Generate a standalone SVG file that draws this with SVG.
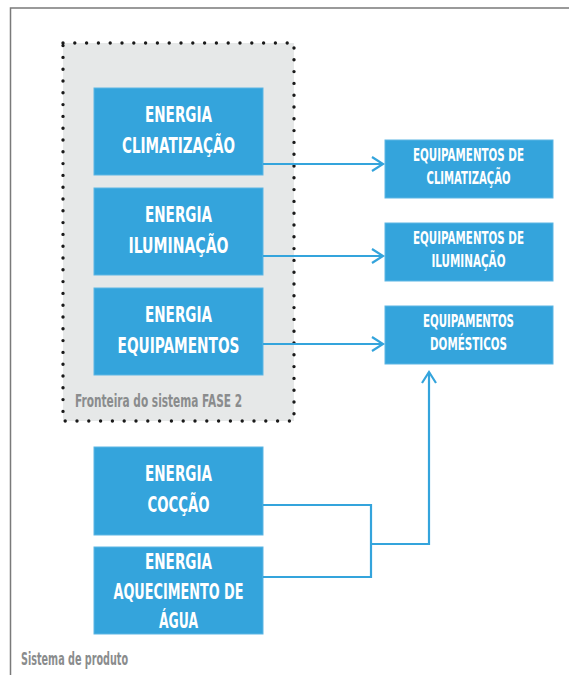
<svg xmlns="http://www.w3.org/2000/svg" width="569" height="675" viewBox="0 0 569 675">
<style>
.box{fill:#34a4dc;stroke:#5cb6e4;stroke-width:1}
.t{font-family:"DejaVu Sans",sans-serif;font-stretch:condensed;font-weight:bold;fill:#ffffff;text-anchor:middle}
.big{font-size:22px}
.sm{font-size:17.5px}
.lbl{font-family:"DejaVu Sans",sans-serif;font-stretch:condensed;font-weight:bold;fill:#8a8c8d}
.c{fill:none;stroke:#34a4dc;stroke-width:2.2}
</style>
<defs>
<marker id="ah" markerWidth="16" markerHeight="16" refX="13" refY="8" orient="auto" markerUnits="userSpaceOnUse">
<path d="M2,1 L13,8 L2,15" fill="none" stroke="#34a4dc" stroke-width="2.2"/>
</marker>
</defs>
<rect width="569" height="675" fill="#ffffff"/>
<path d="M10.5,675 V8 H569" fill="none" stroke="#7a7a7a" stroke-width="1.5"/>
<g id="boundary">
<rect x="63" y="43" width="231" height="378" fill="#e6e8e8"/>
<rect x="63" y="43" width="231" height="378" fill="none" stroke="#1a1a1a" stroke-width="3.4" stroke-linecap="round" stroke-dasharray="0 11.8"/>
<text class="lbl" x="75" y="407" font-size="17.5" textLength="167" lengthAdjust="spacingAndGlyphs">Fronteira do sistema FASE 2</text>
</g>
<g id="climatizacao">
<rect class="box" x="94" y="88" width="169" height="87"/>
<text class="t big" x="178.5" y="122" textLength="67" lengthAdjust="spacingAndGlyphs">ENERGIA</text>
<text class="t big" x="178.5" y="153" textLength="113" lengthAdjust="spacingAndGlyphs">CLIMATIZAÇÃO</text>
</g>
<g id="iluminacao">
<rect class="box" x="94" y="188" width="169" height="87"/>
<text class="t big" x="178.5" y="222" textLength="67" lengthAdjust="spacingAndGlyphs">ENERGIA</text>
<text class="t big" x="178.5" y="253" textLength="100" lengthAdjust="spacingAndGlyphs">ILUMINAÇÃO</text>
</g>
<g id="equipamentos">
<rect class="box" x="94" y="288" width="169" height="87"/>
<text class="t big" x="178.5" y="322" textLength="67" lengthAdjust="spacingAndGlyphs">ENERGIA</text>
<text class="t big" x="178.5" y="353" textLength="122" lengthAdjust="spacingAndGlyphs">EQUIPAMENTOS</text>
</g>
<g id="coccao">
<rect class="box" x="94" y="447" width="169" height="88"/>
<text class="t big" x="178.5" y="481" textLength="67" lengthAdjust="spacingAndGlyphs">ENERGIA</text>
<text class="t big" x="178.5" y="512" textLength="62" lengthAdjust="spacingAndGlyphs">COCÇÃO</text>
</g>
<g id="aquecimento">
<rect class="box" x="94" y="547" width="169" height="87"/>
<text class="t big" x="178.5" y="569" textLength="67" lengthAdjust="spacingAndGlyphs">ENERGIA</text>
<text class="t big" x="178.5" y="599" textLength="130" lengthAdjust="spacingAndGlyphs">AQUECIMENTO DE</text>
<text class="t big" x="178.5" y="628" textLength="39" lengthAdjust="spacingAndGlyphs">ÁGUA</text>
</g>
<g id="eq-climatizacao">
<rect class="box" x="385" y="140" width="168" height="58"/>
<text class="t sm" x="468.5" y="161" textLength="111" lengthAdjust="spacingAndGlyphs">EQUIPAMENTOS DE</text>
<text class="t sm" x="468.5" y="184" textLength="84" lengthAdjust="spacingAndGlyphs">CLIMATIZAÇÃO</text>
</g>
<g id="eq-iluminacao">
<rect class="box" x="385" y="223" width="168" height="58"/>
<text class="t sm" x="468.5" y="244" textLength="111" lengthAdjust="spacingAndGlyphs">EQUIPAMENTOS DE</text>
<text class="t sm" x="468.5" y="267" textLength="74" lengthAdjust="spacingAndGlyphs">ILUMINAÇÃO</text>
</g>
<g id="eq-domesticos">
<rect class="box" x="385" y="306" width="168" height="58"/>
<text class="t sm" x="468.5" y="327" textLength="91" lengthAdjust="spacingAndGlyphs">EQUIPAMENTOS</text>
<text class="t sm" x="468.5" y="350" textLength="77" lengthAdjust="spacingAndGlyphs">DOMÉSTICOS</text>
</g>
<g id="connectors">
<path class="c" d="M263,164 H383" marker-end="url(#ah)"/>
<path class="c" d="M263,256 H383" marker-end="url(#ah)"/>
<path class="c" d="M263,344 H383" marker-end="url(#ah)"/>
<path class="c" d="M263,505 H371 V577 H263"/>
<path class="c" d="M371,544 H429 V372" marker-end="url(#ah)"/>
</g>
<text class="lbl" x="21" y="665" font-size="17" textLength="107" lengthAdjust="spacingAndGlyphs">Sistema de produto</text>
</svg>
